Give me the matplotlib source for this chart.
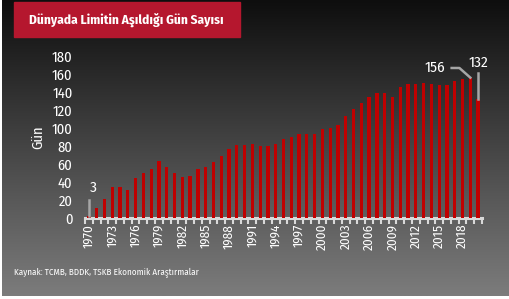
import numpy as np
import matplotlib
matplotlib.use("Agg")
import matplotlib.pyplot as plt
from matplotlib.patches import Rectangle
from matplotlib import font_manager

years = list(range(1970, 2021))
days = [3, 11, 21, 35, 35, 31, 45, 50, 55, 64,
        57, 50, 46, 47, 55, 57, 62, 69, 77, 81,
        81, 82, 80, 80, 82, 88, 90, 94, 94, 94,
        99, 100, 103, 114, 121, 128, 134, 139, 139, 135,
        146, 149, 149, 150, 149, 148, 148, 152, 154, 156,
        132]
tick_years = list(range(1970, 2019, 3))
y_ticks = list(range(0, 181, 20))

title = "Dünyada Limitin Aşıldığı Gün Sayısı"
source = "Kaynak: TCMB, BDDK, TSKB Ekonomik Araştırmalar"

# pick a condensed humanist font, close to the original
names = {f.name for f in font_manager.fontManager.ttflist}
candidates = ["Fira Sans Condensed", "PT Sans Narrow", "Encode Sans Condensed",
              "Roboto Condensed", "Open Sans Condensed", "Archivo Narrow",
              "Liberation Sans Narrow"]
narrow = next((c for c in candidates if c in names), "DejaVu Sans")
plt.rcParams["font.family"] = [narrow, "DejaVu Sans"]

W, H = 510, 299
fig = plt.figure(figsize=(W / 100, H / 100), dpi=100, facecolor="white")

# gradient background
bg = fig.add_axes([2 / W, 3 / H, 1 - 2 / W, 1 - 3 / H])
grad = np.linspace(0, 1, 256).reshape(-1, 1)
cmap = matplotlib.colors.LinearSegmentedColormap.from_list("bg", ["#0e0e0e", "#7c7c7c"])
bg.imshow(grad, aspect="auto", cmap=cmap, extent=[0, 1, 1, 0])
bg.set_axis_off()

# title box
fig.patches.append(Rectangle((14 / W, 1 - 36.5 / H), 226 / W, 34.5 / H,
                             transform=fig.transFigure, color="#b5172e", zorder=2))
fig.text(29 / W, 1 - 19.5 / H, title, color="white", fontsize=9.6, fontweight="bold",
         va="center", ha="left", zorder=3)

x0, x1 = 85, 482
ax = fig.add_axes([x0 / W, 1 - 218.3 / H, (x1 - x0) / W, (218.3 - 56) / H])
ax.set_facecolor("none")
ax.bar(years, days, width=0.42, color="#c00000", zorder=3)
ax.set_xlim(1970 - 0.42, 2020 + 0.42)
ax.set_ylim(0, 180)

for s in ["top", "right", "left"]:
    ax.spines[s].set_visible(False)
ax.spines["bottom"].set_color("#d9d9d9")
ax.spines["bottom"].set_linewidth(2.2)

ax.set_yticks(y_ticks)
ax.tick_params(axis="y", length=0, colors="white", labelsize=10.5, pad=9)
ax.set_xticks(tick_years)
ax.set_xticks(np.arange(1969.5, 2021, 1.0), minor=True)
ax.tick_params(axis="x", which="both", length=4, width=1.5, color="#d9d9d9",
               labelcolor="white", labelsize=9.5, labelrotation=90, pad=4)
ax.tick_params(axis="x", which="major", length=0)
ax.set_ylabel("Gün", color="white", fontsize=10.5, labelpad=5)

# callouts
lc = "#a6a6a6"
ax.plot([1970, 1970], [days[0], 20], color=lc, lw=1.8, zorder=4, clip_on=False)
ax.text(1970.6, 34, "3", color="white", fontsize=11, ha="center", va="center")
ax.plot([2016.6, 2017.6, 2019], [166.7, 166.7, days[-2]], color=lc, lw=1.8,
        zorder=4, clip_on=False)
ax.text(2014.4, 167, str(days[-2]), color="white", fontsize=11, ha="center", va="center")
ax.plot([2020, 2020], [days[-1], 161], color=lc, lw=1.8, zorder=4, clip_on=False)
ax.text(2020, 172.5, str(days[-1]), color="white", fontsize=11, ha="center", va="center",
        clip_on=False)

fig.text(14 / W, 1 - 273 / H, source, color="white", fontsize=6.5, ha="left", va="center")

fig.savefig("out.png", dpi=100, facecolor=fig.get_facecolor())
